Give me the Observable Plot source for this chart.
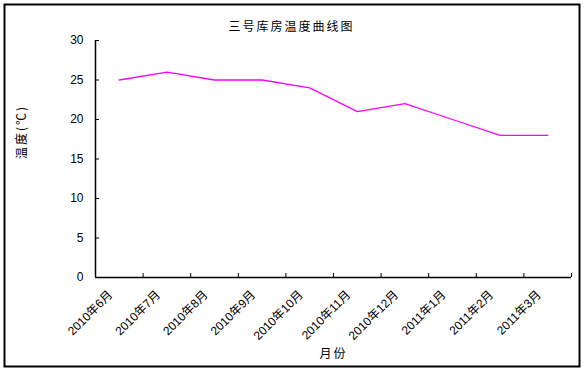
<!DOCTYPE html>
<html><head><meta charset="utf-8">
<script src="https://cdn.jsdelivr.net/npm/d3@7"></script>
<script src="https://cdn.jsdelivr.net/npm/@observablehq/plot@0.6"></script>
<style>body{margin:0;background:#fff}</style>
</head><body><div id="chart"></div>
<script>
const title = "三号库房温度曲线图";
const yLabel = "温度(℃)";
const xLabel = "月份";
const months = ["2010年6月","2010年7月","2010年8月","2010年9月","2010年10月","2010年11月","2010年12月","2011年1月","2011年2月","2011年3月"];
const temps = [25, 26, 25, 25, 24, 21, 22, 20, 18, 18];
const yTicks = [0, 5, 10, 15, 20, 25, 30];

const data = months.map((m, i) => ({month: m, pos: i + 0.5, temp: temps[i]}));
const boundaries = d3.range(months.length + 1);
const cjk = '"Noto Sans CJK SC", sans-serif';
const latin = '"Liberation Sans", Arial, "Noto Sans CJK SC", sans-serif';

const chart = Plot.plot({
  width: 585, height: 371,
  marginLeft: 95, marginRight: 14, marginTop: 40, marginBottom: 94,
  style: {background: "#fff", fontFamily: latin, fontSize: "12px", color: "#000"},
  x: {domain: [0, months.length]},
  y: {domain: [0, 30]},
  marks: [
    Plot.frame({insetLeft: -91, insetTop: -36, insetRight: -8, insetBottom: -89, stroke: "#000", strokeWidth: 2}),
    Plot.axisY({ticks: yTicks, tickSize: 4, dx: 4, tickFormat: () => "", label: null}),
    Plot.axisY({ticks: yTicks, tickSize: 0, tickPadding: 12, fontSize: 12, label: null}),
    Plot.axisX({ticks: boundaries, tickSize: 4, dy: -4, tickFormat: () => "", label: null}),
    Plot.ruleX([0], {strokeWidth: 1.5}),
    Plot.ruleY([0], {strokeWidth: 1.5}),
    Plot.line(data, {x: "pos", y: "temp", stroke: "#FF00FF", strokeWidth: 1.3}),
    Plot.text(data, {x: "pos", text: "month", frameAnchor: "bottom", rotate: -45, textAnchor: "end", dx: -6, dy: 18, fontSize: 12}),
    Plot.text([title], {frameAnchor: "top", dx: -42, dy: -18, fontFamily: cjk, fontSize: 12}),
    Plot.text([yLabel], {frameAnchor: "left", rotate: -90, dx: -73, fontFamily: cjk, fontSize: 12}),
    Plot.text([xLabel], {frameAnchor: "bottom", dy: 80, fontFamily: cjk, fontSize: 12})
  ]
});
d3.select(chart).selectAll("text")
  .filter(function() { return this.textContent === title || this.textContent === xLabel || this.textContent === yLabel; })
  .attr("letter-spacing", "2");
document.getElementById("chart").appendChild(chart);
</script>
</body></html>
